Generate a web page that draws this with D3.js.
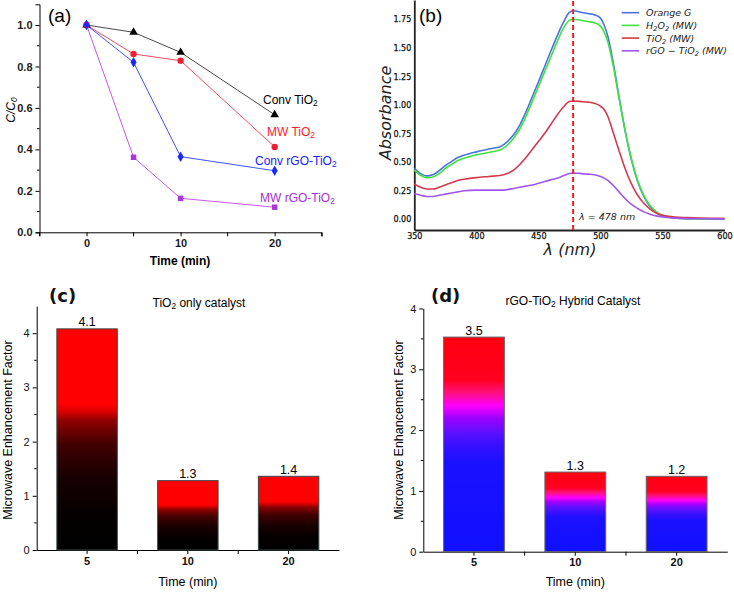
<!DOCTYPE html>
<html><head><meta charset="utf-8">
<script src="https://cdn.jsdelivr.net/npm/d3@7"></script>
<style>body{margin:0;background:#fff}</style>
</head><body><svg id="c" width="734" height="592"></svg>
<script>
// ---------- Panel (a) data ----------
const timeA = [0, 5, 10, 20];
const convTiO2 = [1.0, 0.965, 0.868, 0.567];
const mwTiO2 = [1.0, 0.86, 0.828, 0.412];
const convRGO = [1.0, 0.82, 0.365, 0.297];
const mwRGO = [1.0, 0.362, 0.164, 0.121];
const yTicksA = [0, 0.2, 0.4, 0.6, 0.8, 1.0];
const xTicksA = [0, 10, 20];

// ---------- Panel (b) data ----------
const wavelength = [350,355,360,365,370,375,380,385,390,400,410,420,425,430,435,440,445,450,455,460,465,470,475,478,485,490,495,500,503,506,510,515,520,525,530,535,540,545,550,560,570,580,590,600];
const orangeG = [0.446,0.40,0.38,0.39,0.425,0.47,0.505,0.54,0.56,0.59,0.615,0.64,0.68,0.74,0.825,0.94,1.07,1.20,1.335,1.47,1.60,1.72,1.81,1.825,1.81,1.80,1.79,1.76,1.70,1.60,1.39,1.07,0.77,0.52,0.33,0.20,0.11,0.058,0.03,0.012,0.006,0.004,0.003,0.003];
const h2o2MW = [0.43,0.385,0.365,0.37,0.40,0.445,0.48,0.515,0.535,0.565,0.585,0.61,0.65,0.71,0.79,0.90,1.03,1.16,1.29,1.42,1.55,1.67,1.74,1.75,1.74,1.73,1.72,1.69,1.64,1.55,1.36,1.06,0.77,0.53,0.34,0.21,0.12,0.065,0.035,0.012,0.005,0.003,0.002,0.002];
const tio2MW = [0.31,0.28,0.265,0.265,0.28,0.30,0.32,0.34,0.35,0.365,0.375,0.385,0.40,0.43,0.48,0.54,0.61,0.68,0.75,0.83,0.91,0.98,1.03,1.035,1.03,1.025,1.015,0.99,0.96,0.90,0.77,0.60,0.44,0.31,0.21,0.14,0.09,0.055,0.035,0.02,0.015,0.011,0.009,0.008];
const rgoTio2MW = [0.225,0.21,0.20,0.20,0.21,0.22,0.23,0.24,0.25,0.255,0.255,0.255,0.26,0.27,0.28,0.29,0.30,0.315,0.33,0.345,0.36,0.38,0.40,0.405,0.40,0.395,0.39,0.375,0.36,0.34,0.30,0.24,0.18,0.13,0.095,0.065,0.045,0.03,0.02,0.01,0.006,0.005,0.004,0.004];
const peakWavelength = 478;
const xTicksB = [350, 400, 450, 500, 550, 600];
const yTicksB = [0, 0.25, 0.5, 0.75, 1.0, 1.25, 1.5, 1.75];

// ---------- Panels (c) and (d) data ----------
const barTimes = ["5", "10", "20"];
const mefTiO2 = [4.08, 1.28, 1.36];
const mefTiO2Labels = ["4.1", "1.3", "1.4"];
const mefRGO = [3.53, 1.31, 1.24];
const mefRGOLabels = ["3.5", "1.3", "1.2"];

const svg = d3.select("#c");
svg.append("rect").attr("width", 734).attr("height", 592).attr("fill", "#fff");
const SANS = "Liberation Sans, Arial, Helvetica, sans-serif";
const DJ = "DejaVu Sans, sans-serif";

function rich(sel, parts, size) {
  parts.forEach(([t, kind]) => {
    const ts = sel.append("tspan").text(t);
    if (kind === "sub") ts.attr("baseline-shift", "-25%").attr("font-size", size * 0.7);
  });
  return sel;
}

// ================= Panel (a) =================
{
  const x = d3.scaleLinear().domain([-5, 25]).range([39.5, 321.7]);
  const y = d3.scaleLinear().domain([0, 1.1]).range([232.3, 4.3]);
  const g = svg.append("g");
  const yAx = g.append("g").attr("transform", `translate(${x(-5)},0)`)
    .call(d3.axisLeft(y).tickValues(yTicksA).tickFormat(d3.format(".1f")).tickSizeOuter(0).tickSize(4));
  yAx.selectAll("text").attr("font-family", SANS).attr("font-size", 11).attr("font-weight", "bold").attr("fill", "#222");
  yAx.append("g").selectAll("line").data(d3.range(0.1, 1.1, 0.2)).join("line")
    .attr("x1", 0).attr("x2", -2.5).attr("y1", d => y(d)).attr("y2", d => y(d)).attr("stroke", "#000");
  const xAx = g.append("g").attr("transform", `translate(0,${y(0)})`)
    .call(d3.axisBottom(x).tickValues(xTicksA).tickFormat(d3.format("d")).tickSizeOuter(0).tickSize(4));
  xAx.selectAll("text").attr("font-family", SANS).attr("font-size", 11).attr("font-weight", "bold").attr("fill", "#222");
  xAx.append("g").selectAll("line").data([-5, 5, 15, 25]).join("line")
    .attr("x1", d => x(d)).attr("x2", d => x(d)).attr("y1", 0).attr("y2", 4).attr("stroke", "#000");
  g.selectAll(".domain").attr("stroke", "#000");

  const series = [
    { v: mwRGO, c: "#c358ea", m: "#a838dc", sym: d3.symbolSquare, size: 30, lab: [["MW rGO-TiO", null], ["2", "sub"]], lc: "#a82ee0", lx: 260, ly: 202 },
    { v: convTiO2, c: "#4a4a4a", m: "#000", sym: d3.symbolTriangle, size: 32, lab: [["Conv TiO", null], ["2", "sub"]], lc: "#000", lx: 263, ly: 104 },
    { v: mwTiO2, c: "#f24a64", m: "#f02030", sym: d3.symbolCircle, size: 32, lab: [["MW TiO", null], ["2", "sub"]], lc: "#ff1a2a", lx: 267, ly: 136 },
    { v: convRGO, c: "#3d55ff", m: "#1a2aff", sym: d3.symbolDiamond, size: 32, lab: [["Conv rGO-TiO", null], ["2", "sub"]], lc: "#1a1aff", lx: 255, ly: 165 }
  ];
  const line = d3.line().x((d, i) => x(timeA[i])).y(d => y(d));
  series.forEach(s => {
    g.append("path").attr("d", line(s.v)).attr("fill", "none").attr("stroke", s.c).attr("stroke-width", 1);
  });
  series.forEach(s => {
    g.append("g").selectAll("path").data(s.v).join("path")
      .attr("transform", (d, i) => `translate(${x(timeA[i])},${y(d)})`)
      .attr("d", d3.symbol().type(s.sym).size(s.size)).attr("fill", s.m);
    rich(g.append("text").attr("x", s.lx).attr("y", s.ly).attr("font-family", SANS).attr("font-size", 12).attr("fill", s.lc), s.lab, 12);
  });
  g.append("text").attr("x", 48).attr("y", 22).attr("font-family", SANS).attr("font-size", 19).text("(a)");
  g.append("text").attr("x", 180).attr("y", 265).attr("text-anchor", "middle").attr("font-family", SANS)
    .attr("font-size", 12).attr("font-weight", "bold").text("Time (min)");
  rich(g.append("text").attr("transform", "translate(15,110) rotate(-90)").attr("text-anchor", "middle")
    .attr("font-family", SANS).attr("font-size", 12).attr("font-style", "italic"), [["C/C", null], ["0", "sub"]], 12);
}

// ================= Panel (b) =================
{
  const x = d3.scaleLinear().domain([350, 600]).range([414.3, 724.5]);
  const y = d3.scaleLinear().domain([-0.0936, 1.9188]).range([230, 0]);
  const g = svg.append("g");
  const xAx = g.append("g").attr("transform", "translate(0,230)")
    .call(d3.axisBottom(x).tickValues(xTicksB).tickSize(0).tickPadding(3).tickSizeOuter(0));
  const yAx = g.append("g").attr("transform", `translate(${x(350)},0)`)
    .call(d3.axisLeft(y).tickValues(yTicksB).tickFormat(d3.format(".2f")).tickSize(0).tickPadding(3).tickSizeOuter(0));
  [xAx, yAx].forEach(a => {
    a.selectAll("text").attr("font-family", DJ).attr("font-size", 8).attr("fill", "#111")
      .attr("stroke", "#111").attr("stroke-width", 0.25);
    a.select(".domain").attr("stroke", "#222").attr("stroke-width", 1.8);
  });
  const series = [
    { v: orangeG, c: "#4a72e0", lab: [["Orange G", null]] },
    { v: h2o2MW, c: "#3ee43e", lab: [["H", null], ["2", "sub"], ["O", null], ["2", "sub"], [" (MW)", null]] },
    { v: tio2MW, c: "#d33a4e", lab: [["TiO", null], ["2", "sub"], [" (MW)", null]] },
    { v: rgoTio2MW, c: "#a056f0", lab: [["rGO − TiO", null], ["2", "sub"], [" (MW)", null]] }
  ];
  const line = d3.line().x((d, i) => x(wavelength[i])).y(d => y(d)).curve(d3.curveMonotoneX);
  series.forEach(s => {
    g.append("path").attr("d", line(s.v)).attr("fill", "none").attr("stroke", s.c).attr("stroke-width", 1.6);
  });
  g.append("line").attr("x1", x(peakWavelength)).attr("x2", x(peakWavelength)).attr("y1", 230).attr("y2", 0)
    .attr("stroke", "#f02020").attr("stroke-width", 2).attr("stroke-dasharray", "5,3");
  g.append("text").attr("x", x(peakWavelength) + 6).attr("y", 220).attr("font-family", DJ).attr("font-size", 9.5)
    .attr("font-style", "italic").attr("fill", "#222").text("λ  =  478 nm");
  series.forEach((s, i) => {
    const yy = 12.7 + i * 12.7;
    g.append("line").attr("x1", 621.7).attr("x2", 639).attr("y1", yy).attr("y2", yy).attr("stroke", s.c).attr("stroke-width", 1.6);
    rich(g.append("text").attr("x", 646).attr("y", yy + 3.5).attr("font-family", DJ).attr("font-size", 9.5)
      .attr("font-style", "italic").attr("fill", "#222"), s.lab, 9.5);
  });
  g.append("text").attr("x", 419).attr("y", 22).attr("font-family", SANS).attr("font-size", 19).text("(b)");
  g.append("text").attr("x", 570).attr("y", 255).attr("text-anchor", "middle").attr("font-family", DJ)
    .attr("font-size", 16).attr("font-style", "italic").attr("fill", "#222").text("λ (nm)");
  g.append("text").attr("transform", "translate(391,113) rotate(-90)").attr("text-anchor", "middle")
    .attr("font-family", DJ).attr("font-size", 16).attr("font-style", "italic").attr("fill", "#222").text("Absorbance");
}

// ================= Gradients =================
const defs = svg.append("defs");
function grad(id, stops) {
  const lg = defs.append("linearGradient").attr("id", id).attr("x1", 0).attr("y1", 1).attr("x2", 0).attr("y2", 0);
  stops.forEach(([o, c]) => lg.append("stop").attr("offset", o).attr("stop-color", c));
}
grad("gRedBlack", [[0, "#000"], [0.17, "#050000"], [0.33, "#180000"], [0.48, "#420000"], [0.585, "#900000"], [0.63, "#e00000"], [0.66, "#ff0000"], [1, "#ff0000"]]);
grad("gRedBlue", [[0, "#1010ff"], [0.42, "#1a10ff"], [0.5, "#3a10ff"], [0.56, "#6010ff"], [0.625, "#a000ff"], [0.68, "#ff00ff"], [0.74, "#ff1080"], [0.8, "#ff0020"], [1, "#ff0010"]]);

// ================= Bar panels =================
function barPanel(o) {
  const g = svg.append("g");
  const x = d3.scaleBand().domain(barTimes).range([o.x0, o.x1]).paddingInner(0.4).paddingOuter(0.2);
  const y = d3.scaleLinear().domain([0, o.ymax]).range([o.yb, o.yt]);
  const yAx = g.append("g").attr("transform", `translate(${o.x0},0)`)
    .call(d3.axisLeft(y).tickValues(d3.range(0, Math.floor(o.ymax) + 1)).tickFormat(d3.format("d")).tickSize(4).tickSizeOuter(0));
  yAx.append("g").selectAll("line").data(d3.range(0.5, o.ymax, 1)).join("line")
    .attr("x1", 0).attr("x2", -2.5).attr("y1", d => y(d)).attr("y2", d => y(d)).attr("stroke", "#000");
  const xAx = g.append("g").attr("transform", `translate(0,${o.yb})`)
    .call(d3.axisBottom(x).tickSize(4).tickSizeOuter(0));
  xAx.append("g").selectAll("line").data([1, 2]).join("line")
    .attr("x1", d => x(barTimes[d]) - x.step() * 0.2).attr("x2", d => x(barTimes[d]) - x.step() * 0.2)
    .attr("y1", 0).attr("y2", 4).attr("stroke", "#000");
  [xAx, yAx].forEach(a => {
    a.selectAll("text").attr("font-family", SANS).attr("font-size", 11).attr("fill", "#111");
    a.select(".domain").attr("stroke", "#000");
  });
  xAx.selectAll(".tick text").attr("font-weight", "bold");
  g.selectAll(".bar").data(o.values).join("rect")
    .attr("x", (d, i) => x(barTimes[i])).attr("width", x.bandwidth())
    .attr("y", d => y(d)).attr("height", d => o.yb - y(d))
    .attr("fill", `url(#${o.grad})`).attr("stroke", o.stroke).attr("stroke-width", 1);
  g.selectAll(".vl").data(o.values).join("text")
    .attr("x", (d, i) => x(barTimes[i]) + x.bandwidth() / 2).attr("y", d => y(d) - 2.5)
    .attr("text-anchor", "middle").attr("font-family", SANS).attr("font-size", 12.5).attr("fill", "#000")
    .text((d, i) => o.labels[i]);
  g.append("text").attr("x", o.tagX).attr("y", o.tagY).attr("font-family", DJ).attr("font-size", 18)
    .attr("font-weight", "bold").attr("fill", "#111").text(o.tag);
  rich(g.append("text").attr("x", o.titleX).attr("y", o.titleY).attr("text-anchor", "middle")
    .attr("font-family", SANS).attr("font-size", 12).attr("fill", "#000"), o.title, 12);
  g.append("text").attr("x", (o.x0 + o.x1) / 2).attr("y", 586).attr("text-anchor", "middle")
    .attr("font-family", SANS).attr("font-size", 12.5).attr("fill", "#000").text("Time (min)");
  g.append("text").attr("transform", `translate(${o.ylX},430) rotate(-90)`).attr("text-anchor", "middle")
    .attr("font-family", SANS).attr("font-size", 12.5).attr("fill", "#000").text("Microwave Enhancement Factor");
}
barPanel({ x0: 36.7, x1: 339, yb: 550, yt: 306.1, ymax: 4.5, values: mefTiO2, labels: mefTiO2Labels,
  grad: "gRedBlack", stroke: "#3a4a48", tag: "(c)", tagX: 49, tagY: 302, title: [["TiO", null], ["2", "sub"], [" only catalyst", null]],
  titleX: 199, titleY: 307, ylX: 12 });
barPanel({ x0: 423.3, x1: 727.3, yb: 551.7, yt: 308.5, ymax: 4, values: mefRGO, labels: mefRGOLabels,
  grad: "gRedBlue", stroke: "#666", tag: "(d)", tagX: 431, tagY: 302, title: [["rGO-TiO", null], ["2", "sub"], [" Hybrid Catalyst", null]],
  titleX: 573, titleY: 305, ylX: 403 });
</script></body></html>
